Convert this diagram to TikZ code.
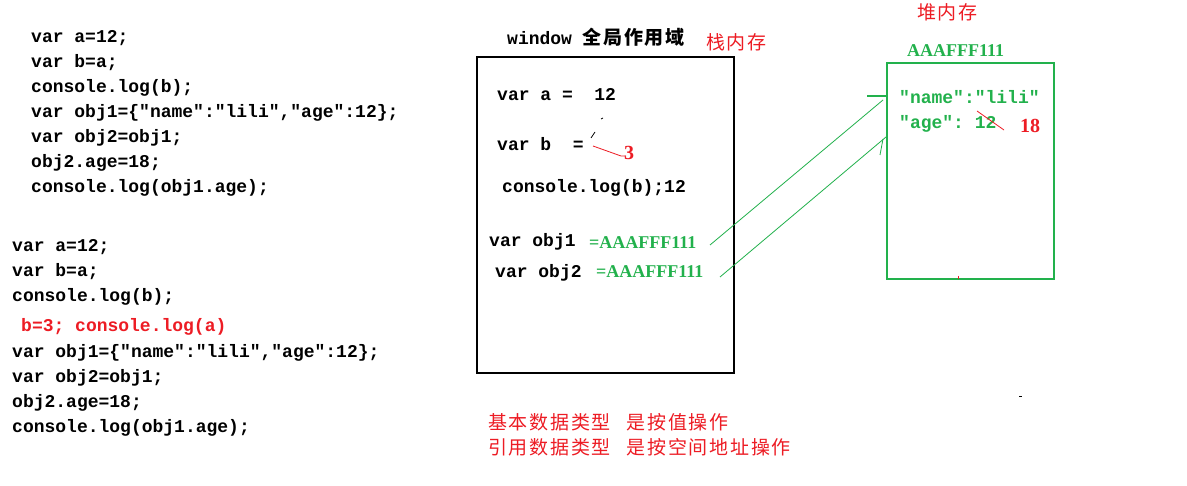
\documentclass[tikz,border=0pt]{standalone}
\usepackage{fontspec}
\setmainfont{Liberation Serif}
\setmonofont{Liberation Mono}
\newfontfamily\cjk[LetterSpace=9]{Noto Sans CJK SC}
\definecolor{pgreen}{RGB}{34,177,76}
\definecolor{pred}{RGB}{237,28,36}
\begin{document}
\begin{tikzpicture}[x=1pt,y=-1pt,
  code/.style={font=\ttfamily\bfseries\fontsize{18}{20}\selectfont, anchor=base west, inner sep=0},
  serifg/.style={font=\bfseries\fontsize{18}{20}\selectfont, text=pgreen, anchor=base west, inner sep=0},
  serifr/.style={font=\bfseries\fontsize{20}{22}\selectfont, text=pred, anchor=base west, inner sep=0},
  cjkt/.style={font=\cjk\fontsize{19}{21}\selectfont, anchor=west, inner sep=0},
  redcjk/.style={cjkt, text=pred},
  gline/.style={draw=pgreen, line width=0.8pt},
  gbox/.style={draw=pgreen, line width=1.3pt},
  bbox/.style={draw=black, line width=1.3pt}]
\useasboundingbox (0,0) rectangle (1187,486);
\fill[white] (0,0) rectangle (1187,486);

% left code block 1
\node[code] (c1) at (31,43) {var a=12;};
\node[code] (c2) at (31,68) {var b=a;};
\node[code] (c3) at (31,93) {console.log(b);};
\node[code] (c4) at (31,118) {var obj1=\{"name":"lili","age":12\};};
\node[code] (c5) at (31,143) {var obj2=obj1;};
\node[code] (c6) at (31,168) {obj2.age=18;};
\node[code] (c7) at (31,193) {console.log(obj1.age);};

% left code block 2
\node[code] (d1) at (12,252) {var a=12;};
\node[code] (d2) at (12,277) {var b=a;};
\node[code] (d3) at (12,302) {console.log(b);};
\node[code, text=pred] (d4) at (21,332) {b=3; console.log(a)};
\node[code] (d5) at (12,358) {var obj1=\{"name":"lili","age":12\};};
\node[code] (d6) at (12,383) {var obj2=obj1;};
\node[code] (d7) at (12,408) {obj2.age=18;};
\node[code] (d8) at (12,433) {console.log(obj1.age);};

% stack
\node[code, anchor=base west] (title) at (507,45) {window\ {\cjk\fontsize{19}{21}\selectfont 全局作用域}};
\node[redcjk] (stk) at (706,42) {栈内存};
\draw[bbox] (477,57) rectangle (734,373);
\node[code] (sa) at (497,101) {var a =\ \ 12};
\node[code] (sb) at (497,151) {var b\ \ =};
\node[code] (sc) at (502,193) {console.log(b);12};
\node[code] (so1) at (489,247) {var obj1};
\node[serifg] (g1) at (589,249) {=AAAFFF111};
\node[code] (so2) at (495,278) {var obj2};
\node[serifg] (g2) at (596,278) {=AAAFFF111};
\draw[black, line width=0.8pt] (601,119) -- (603,118);
\draw[black, line width=0.8pt] (595,132) -- (591,138);
\draw[pred, line width=0.8pt] (593,146) -- (621,156) -- (626,156);
\node[serifr] (three) at (624,160) {3};

% heap
\node[redcjk] (heap) at (917,12) {堆内存};
\node[serifg] (addr) at (907,57) {AAAFFF111};
\draw[gbox] (887,63) rectangle (1054,279);
\node[code, text=pgreen] (nm) at (899,104) {"name":"lili"};
\node[code, text=pgreen] (ag) at (899,129) {"age": 12};
\draw[pred, line width=0.8pt] (977,111) -- (1004,130);
\node[serifr] (eight) at (1020,133) {18};
\draw[pred, line width=1pt] (958,276) -- (958,279);
\draw[black, line width=1pt] (1019,397) -- (1022,397);

% connectors
\coordinate (s1) at (710,245);
\coordinate (e1) at (883,100);
\coordinate (s2) at (720,277);
\coordinate (e2) at (886,137);
\coordinate (t1) at (867,96);
\coordinate (t2) at (887,96);
\coordinate (h2) at (880,155);
\draw[gline] (s1) -- (e1);
\draw[gline] (s2) -- (e2);
\draw[gline, line width=1.2pt] (t1) -- (t2);
\draw[gline] (883,139) -- (h2);

% notes
\node[redcjk] (n1) at (488,422) {基本数据类型\hspace{16pt}是按值操作};
\node[redcjk] (n2) at (488,447) {引用数据类型\hspace{16pt}是按空间地址操作};
\end{tikzpicture}
\end{document}
